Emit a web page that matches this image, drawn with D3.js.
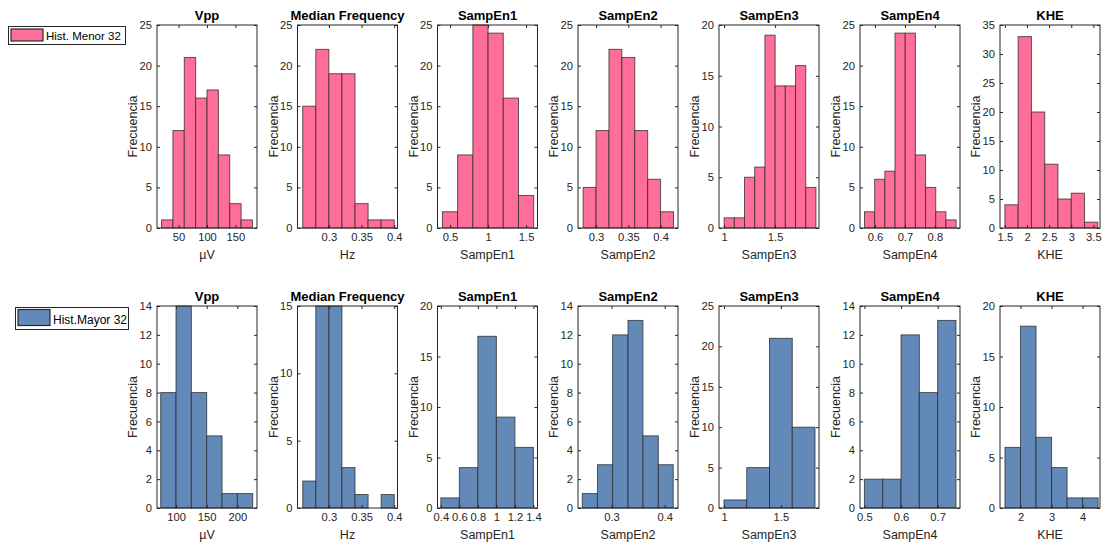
<!DOCTYPE html>
<html>
<head>
<meta charset="utf-8">
<script src="https://cdn.jsdelivr.net/npm/d3@7"></script>
<style>
    body { margin: 0; background: #fff; }
    svg { display: block; font-family: "Liberation Sans", Arial, sans-serif; }
    .tick text { fill: #262626; font-size: 11.2px; }
    .tick line { stroke: #262626; }
</style>
</head>
<body>
<div id="vis"></div>
<script>
// Data ----------------------------------------------------------------------

const titles = ["Vpp", "Median Frequency", "SampEn1", "SampEn2", "SampEn3", "SampEn4", "KHE"];
const xLabels = ["µV", "Hz", "SampEn1", "SampEn2", "SampEn3", "SampEn4", "KHE"];

// Hist. Menor 32 (top row)
const menorEdges = [
    [20, 40, 60, 80, 100, 120, 140, 160, 180],
    [0.26, 0.28, 0.30, 0.32, 0.34, 0.36, 0.38, 0.40],
    [0.4, 0.6, 0.8, 1.0, 1.2, 1.4, 1.6],
    [0.28, 0.30, 0.32, 0.34, 0.36, 0.38, 0.40, 0.42],
    [1.0, 1.1, 1.2, 1.3, 1.4, 1.5, 1.6, 1.7, 1.8, 1.9],
    [0.565, 0.599, 0.633, 0.667, 0.701, 0.735, 0.769, 0.803, 0.837, 0.871],
    [1.5, 1.8, 2.1, 2.4, 2.7, 3.0, 3.3, 3.6]
];
const menorCounts = [
    [1, 12, 21, 16, 17, 9, 3, 1],
    [15, 22, 19, 19, 3, 1, 1],
    [2, 9, 25, 24, 16, 4],
    [5, 12, 22, 21, 12, 6, 2],
    [1, 1, 5, 6, 19, 14, 14, 16, 4],
    [2, 6, 7, 24, 24, 9, 5, 2, 1],
    [4, 33, 20, 11, 5, 6, 1]
];
const menorXDomain = [[12, 188], [0.252, 0.405], [0.335, 1.65], [0.272, 0.427],
    [0.95, 1.93], [0.55, 0.884], [1.39, 3.65]];
const menorXTicks = [[50, 100, 150], [0.3, 0.35, 0.4], [0.5, 1, 1.5], [0.3, 0.35, 0.4],
    [1, 1.5], [0.6, 0.7, 0.8], [1.5, 2, 2.5, 3, 3.5]];
const menorYMax = [25, 25, 25, 25, 20, 25, 35];
const menorYStep = [5, 5, 5, 5, 5, 5, 5];

// Hist.Mayor 32 (bottom row)
const mayorEdges = [
    [75, 100, 125, 150, 175, 200, 225],
    [0.26, 0.28, 0.30, 0.32, 0.34, 0.36, 0.38, 0.40],
    [0.4, 0.6, 0.8, 1.0, 1.2, 1.4],
    [0.245, 0.2736, 0.302, 0.331, 0.359, 0.388, 0.416],
    [1.0, 1.2, 1.4, 1.6, 1.8],
    [0.5, 0.55, 0.6, 0.65, 0.7, 0.75],
    [1.5, 2, 2.5, 3, 3.5, 4, 4.5]
];
const mayorCounts = [
    [8, 14, 8, 5, 1, 1],
    [2, 15, 15, 3, 1, 0, 1],
    [1, 4, 17, 9, 6],
    [1, 3, 12, 13, 5, 3],
    [1, 5, 21, 10],
    [2, 2, 12, 8, 13],
    [6, 18, 7, 4, 1, 1]
];
const mayorXDomain = [[69, 232], [0.252, 0.405], [0.364, 1.444], [0.237, 0.425],
    [0.956, 1.835], [0.488, 0.761], [1.34, 4.56]];
const mayorXTicks = [[100, 150, 200], [0.3, 0.35, 0.4], [0.4, 0.6, 0.8, 1, 1.2, 1.4],
    [0.3, 0.4], [1, 1.5], [0.5, 0.6, 0.7], [2, 3, 4]];
const mayorYMax = [14, 15, 20, 14, 25, 14, 20];
const mayorYStep = [2, 5, 5, 2, 5, 2, 5];

// Layout --------------------------------------------------------------------

const W = 1105, H = 545;
const PINK = "#ff6e98";
const BLUE = "#6389b8";
const INK = "#262626";

const svg = d3.select("#vis").append("svg")
    .attr("width", W)
    .attr("height", H);

const fmt = d => String(+d.toFixed(4));

function drawPanel(left, top, w, h, cfg) {
    const g = svg.append("g").attr("transform", `translate(${left},${top})`);

    const x = d3.scaleLinear().domain(cfg.xDomain).range([0, w]);
    const y = d3.scaleLinear().domain([0, cfg.yMax]).range([h, 0]);
    const yTicks = d3.range(0, cfg.yMax + 0.001, cfg.yStep);

    // bars
    const bins = cfg.counts.map((c, i) => ({x0: cfg.edges[i], x1: cfg.edges[i + 1], n: c}))
        .filter(d => d.n > 0);
    g.selectAll(".bar")
        .data(bins)
        .enter()
        .append("rect")
        .attr("class", "bar")
        .attr("x", d => x(d.x0))
        .attr("y", d => y(d.n))
        .attr("width", d => x(d.x1) - x(d.x0))
        .attr("height", d => y(0) - y(d.n))
        .attr("fill", cfg.color)
        .attr("stroke", "#2a2a2a")
        .attr("stroke-opacity", 0.75)
        .attr("stroke-width", 1);

    // axes, ticks pointing inward
    const tk = 3;
    g.append("g")
        .attr("transform", `translate(0,${h})`)
        .call(d3.axisBottom(x).tickValues(cfg.xTicks).tickSize(-tk).tickPadding(4).tickFormat(fmt))
        .call(a => a.select(".domain").remove())
        .call(a => a.selectAll("text").attr("dy", "0.71em").attr("y", 5));
    g.append("g")
        .call(d3.axisTop(x).tickValues(cfg.xTicks).tickSize(-tk).tickFormat(""))
        .call(a => a.select(".domain").remove());
    g.append("g")
        .call(d3.axisLeft(y).tickValues(yTicks).tickSize(-tk).tickPadding(5).tickFormat(d3.format("d")))
        .call(a => a.select(".domain").remove());
    g.append("g")
        .attr("transform", `translate(${w},0)`)
        .call(d3.axisRight(y).tickValues(yTicks).tickSize(-tk).tickFormat(""))
        .call(a => a.select(".domain").remove());

    // box
    g.append("rect")
        .attr("x", 0).attr("y", 0)
        .attr("width", w).attr("height", h)
        .attr("fill", "none")
        .attr("stroke", INK)
        .attr("stroke-width", 1);

    // title and labels
    g.append("text")
        .attr("x", w / 2)
        .attr("y", -5)
        .attr("text-anchor", "middle")
        .attr("font-weight", "bold")
        .attr("font-size", "13px")
        .attr("fill", "#000")
        .text(cfg.title);

    g.append("text")
        .attr("x", w / 2)
        .attr("y", h + 31)
        .attr("text-anchor", "middle")
        .attr("font-size", "12.5px")
        .attr("fill", INK)
        .text(cfg.xLabel);

    g.append("text")
        .attr("transform", `translate(-20,${h / 2}) rotate(-90)`)
        .attr("text-anchor", "middle")
        .attr("font-size", "12.5px")
        .attr("fill", INK)
        .text("Frecuencia");
}

function drawLegend(bx, by, bw, bh, sx, sy, sw, sh, label, color, size) {
    svg.append("rect")
        .attr("x", bx + 0.5).attr("y", by + 0.5)
        .attr("width", bw).attr("height", bh)
        .attr("fill", "#fff")
        .attr("stroke", INK)
        .attr("stroke-width", 1);
    svg.append("rect")
        .attr("x", sx).attr("y", sy)
        .attr("width", sw).attr("height", sh)
        .attr("fill", color)
        .attr("stroke", "#2a2a2a")
        .attr("stroke-width", 1.2);
    svg.append("text")
        .attr("x", sx + sw + 3)
        .attr("y", sy + sh - 1.5)
        .attr("font-size", size)
        .attr("fill", "#000")
        .text(label);
}

const lefts = [157, 297.5, 437.5, 578, 719, 860, 1000];
const axW = 100;

titles.forEach((t, i) => {
    drawPanel(lefts[i], 25, axW, 203, {
        title: t, xLabel: xLabels[i], color: PINK,
        edges: menorEdges[i], counts: menorCounts[i],
        xDomain: menorXDomain[i], xTicks: menorXTicks[i],
        yMax: menorYMax[i], yStep: menorYStep[i]
    });
    drawPanel(lefts[i], 306, axW, 202, {
        title: t, xLabel: xLabels[i], color: BLUE,
        edges: mayorEdges[i], counts: mayorCounts[i],
        xDomain: mayorXDomain[i], xTicks: mayorXTicks[i],
        yMax: mayorYMax[i], yStep: mayorYStep[i]
    });
});

drawLegend(8, 26, 117, 18, 11, 29, 32, 12, "Hist. Menor 32", PINK, "11.5px");
drawLegend(15, 307, 113, 22, 18, 309.5, 32, 16, "Hist.Mayor 32", BLUE, "12px");
</script>
</body>
</html>
